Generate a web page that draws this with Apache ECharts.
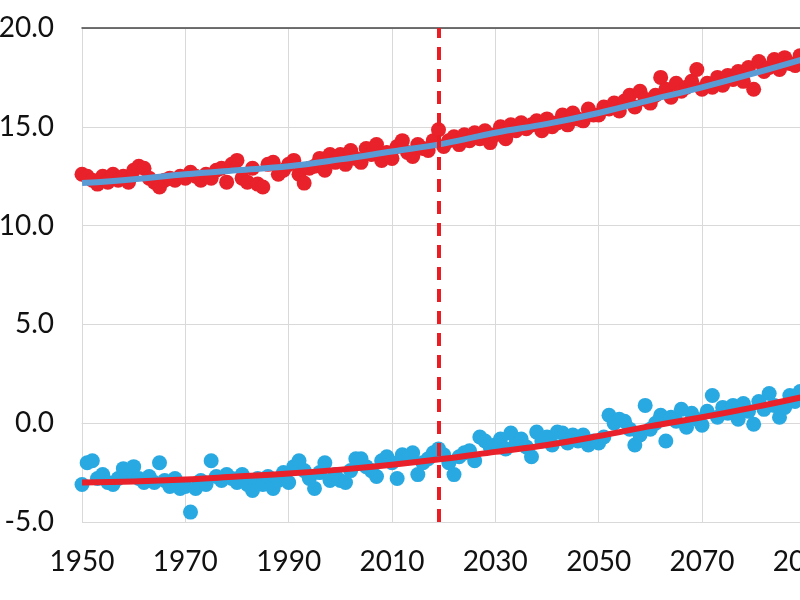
<!DOCTYPE html>
<html>
<head>
<meta charset="utf-8">
<script src="https://cdn.jsdelivr.net/npm/echarts@6/dist/echarts.min.js"></script>
<style>html,body{margin:0;padding:0;background:#fff;}#c{width:800px;height:600px;}</style>
</head>
<body>
<div id="c"></div>
<script>
const startYear = 1950;
const redPoints = [
  12.6, 12.5, 12.3, 12.1, 12.5, 12.2, 12.6, 12.3, 12.5, 12.2,
  12.8, 13.0, 12.9, 12.4, 12.2, 11.95, 12.3, 12.4, 12.3, 12.5,
  12.4, 12.7, 12.5, 12.3, 12.6, 12.4, 12.8, 12.9, 12.2, 13.1,
  13.3, 12.4, 12.2, 12.9, 12.1, 11.95, 13.1, 13.2, 12.6, 12.8,
  13.1, 13.3, 12.6, 12.15, 12.9, 13.0, 13.4, 12.8, 13.6, 13.2,
  13.6, 13.1, 13.8, 13.4, 13.2, 13.9, 13.6, 14.1, 13.3, 13.7,
  13.4, 14.0, 14.3, 13.7, 13.5, 14.1, 13.9, 13.8, 14.3, 14.85,
  14.0, 14.3, 14.5, 14.1, 14.6, 14.3, 14.7, 14.4, 14.8, 14.2,
  14.6, 15.0, 14.4, 15.1, 14.8, 15.2, 14.9, 15.1, 15.3, 14.8,
  15.4, 15.0, 15.2, 15.6, 15.1, 15.7, 15.4, 15.3, 15.9, 15.6,
  15.6, 16.0, 15.9, 16.2, 15.8, 16.3, 16.6, 16.0, 16.8, 16.4,
  16.2, 16.6, 17.5, 16.9, 16.5, 17.2, 16.8, 17.0, 17.3, 17.9,
  16.9, 17.2, 17.0, 17.5, 17.1, 17.6, 17.4, 17.8, 17.3, 18.0,
  16.9, 18.3, 17.8, 18.0, 18.4, 17.9, 18.5, 18.2, 18.1, 18.6,
  18.4, 18.8, 18.6, 19.0, 18.7, 19.1, 18.9, 19.3, 19.0, 19.4, 19.2
];
const bluePoints = [
  -3.1, -2.0, -1.9, -2.8, -2.6, -3.0, -3.1, -2.8, -2.3, -2.5,
  -2.2, -2.8, -3.0, -2.7, -3.0, -2.0, -2.9, -3.2, -2.8, -3.3,
  -3.2, -4.5, -3.3, -2.9, -3.1, -1.9, -2.7, -2.9, -2.6, -2.8,
  -3.0, -2.6, -3.1, -3.4, -2.8, -3.1, -2.7, -3.3, -2.9, -2.5,
  -3.0, -2.2, -1.9, -2.4, -2.8, -3.3, -2.5, -2.0, -2.9, -2.6,
  -2.9, -3.0, -2.4, -1.8, -1.8, -2.2, -2.4, -2.7, -1.9, -1.7,
  -2.0, -2.8, -1.6, -1.7, -1.5, -2.6, -2.0, -1.8, -1.5, -1.3,
  -1.6, -2.0, -2.6, -1.7, -1.5, -1.4, -1.9, -0.7, -0.9, -1.2,
  -1.1, -0.8, -1.3, -0.5, -1.0, -0.8, -1.2, -1.7, -0.45, -0.9,
  -0.7, -1.1, -0.45, -0.5, -1.0, -0.6, -0.9, -0.6, -1.1, -0.9,
  -1.0, -0.7, 0.4, 0.0, 0.2, 0.1, -0.3, -1.1, -0.6, 0.9,
  -0.3, 0.0, 0.4, -0.9, 0.3, 0.1, 0.7, -0.2, 0.5, 0.2,
  -0.1, 0.6, 1.4, 0.3, 0.8, 0.5, 0.9, 0.2, 1.0, 0.6,
  -0.05, 1.1, 0.7, 1.5, 0.9, 0.3, 0.8, 1.4, 1.1, 1.6,
  1.3, 1.8, 1.5, 2.0, 1.7, 2.2, 1.9, 2.1, 2.4, 2.0, 2.3
];
const trendYears = [1950, 1960, 1970, 1980, 1990, 2000, 2010, 2020, 2030, 2040, 2050, 2060, 2070, 2080, 2090, 2100];
const redTrend  = [12.15, 12.35, 12.6, 12.8, 13.0, 13.35, 13.75, 14.15, 14.7, 15.15, 15.7, 16.35, 17.0, 17.7, 18.45, 19.2];
const blueTrend = [-3.0, -2.95, -2.85, -2.7, -2.55, -2.35, -2.1, -1.8, -1.45, -1.1, -0.65, -0.15, 0.3, 0.8, 1.35, 1.95];
const markerYear = 2019;
const yTicks = { min: -5, max: 20, interval: 5 };
const xTicks = { min: 1950, max: 2100, interval: 20 };

const RED = '#E8212A';
const SKY = '#29A9E1';
const LBLUE = '#5B9BD5';

const pts = arr => arr.map((v, i) => [startYear + i, v]);
const line = (ys, vs) => ys.map((y, i) => [y, vs[i]]);

const chart = echarts.init(document.getElementById('c'), null, { renderer: 'canvas' });
chart.setOption({
  animation: false,
  backgroundColor: '#fff',
  grid: { left: 82, top: 28, width: 775, height: 494, containLabel: false, outerBoundsMode: 'none' },
  xAxis: [{
    type: 'value', min: xTicks.min, max: xTicks.max, interval: xTicks.interval,
    axisLine: { show: true, lineStyle: { color: '#d9d9d9', width: 1 } },
    axisTick: { show: false },
    axisLabel: { color: '#111', fontSize: 28, fontFamily: 'Lato', margin: 26, formatter: v => String(v) },
    splitLine: { show: true, lineStyle: { color: '#d9d9d9', width: 1 } }
  }, {
    type: 'value', position: 'top', min: xTicks.min, max: xTicks.max, interval: xTicks.interval,
    axisLine: { show: true, lineStyle: { color: '#444', width: 1.5 } },
    axisTick: { show: false }, axisLabel: { show: false }, splitLine: { show: false }
  }],
  yAxis: {
    type: 'value', min: yTicks.min, max: yTicks.max, interval: yTicks.interval,
    axisLine: { show: true, lineStyle: { color: '#d9d9d9', width: 1 } },
    axisTick: { show: false },
    axisLabel: { color: '#111', fontSize: 28, fontFamily: 'Lato', margin: 28, formatter: v => v.toFixed(1) },
    splitLine: { show: true, lineStyle: { color: '#d9d9d9', width: 1 } }
  },
  series: [
    { type: 'scatter', data: pts(redPoints), symbolSize: 15, itemStyle: { color: RED, opacity: 1 }, z: 2 },
    { type: 'scatter', data: pts(bluePoints), symbolSize: 15, itemStyle: { color: SKY, opacity: 1 }, z: 2 },
    { type: 'line', data: line(trendYears, redTrend), smooth: 0.4, showSymbol: false, symbol: 'none',
      lineStyle: { color: LBLUE, width: 6 }, z: 3 },
    { type: 'line', data: line(trendYears, blueTrend), smooth: 0.4, showSymbol: false, symbol: 'none',
      lineStyle: { color: RED, width: 6 }, z: 3,
      markLine: {
        silent: true, symbol: ['none', 'none'], label: { show: false },
        lineStyle: { color: '#EC1C24', width: 4, type: [13, 9], opacity: 1 },
        emphasis: { disabled: true },
        data: [{ xAxis: markerYear }], z: 5
      }
    }
  ]
});
</script>
</body>
</html>
